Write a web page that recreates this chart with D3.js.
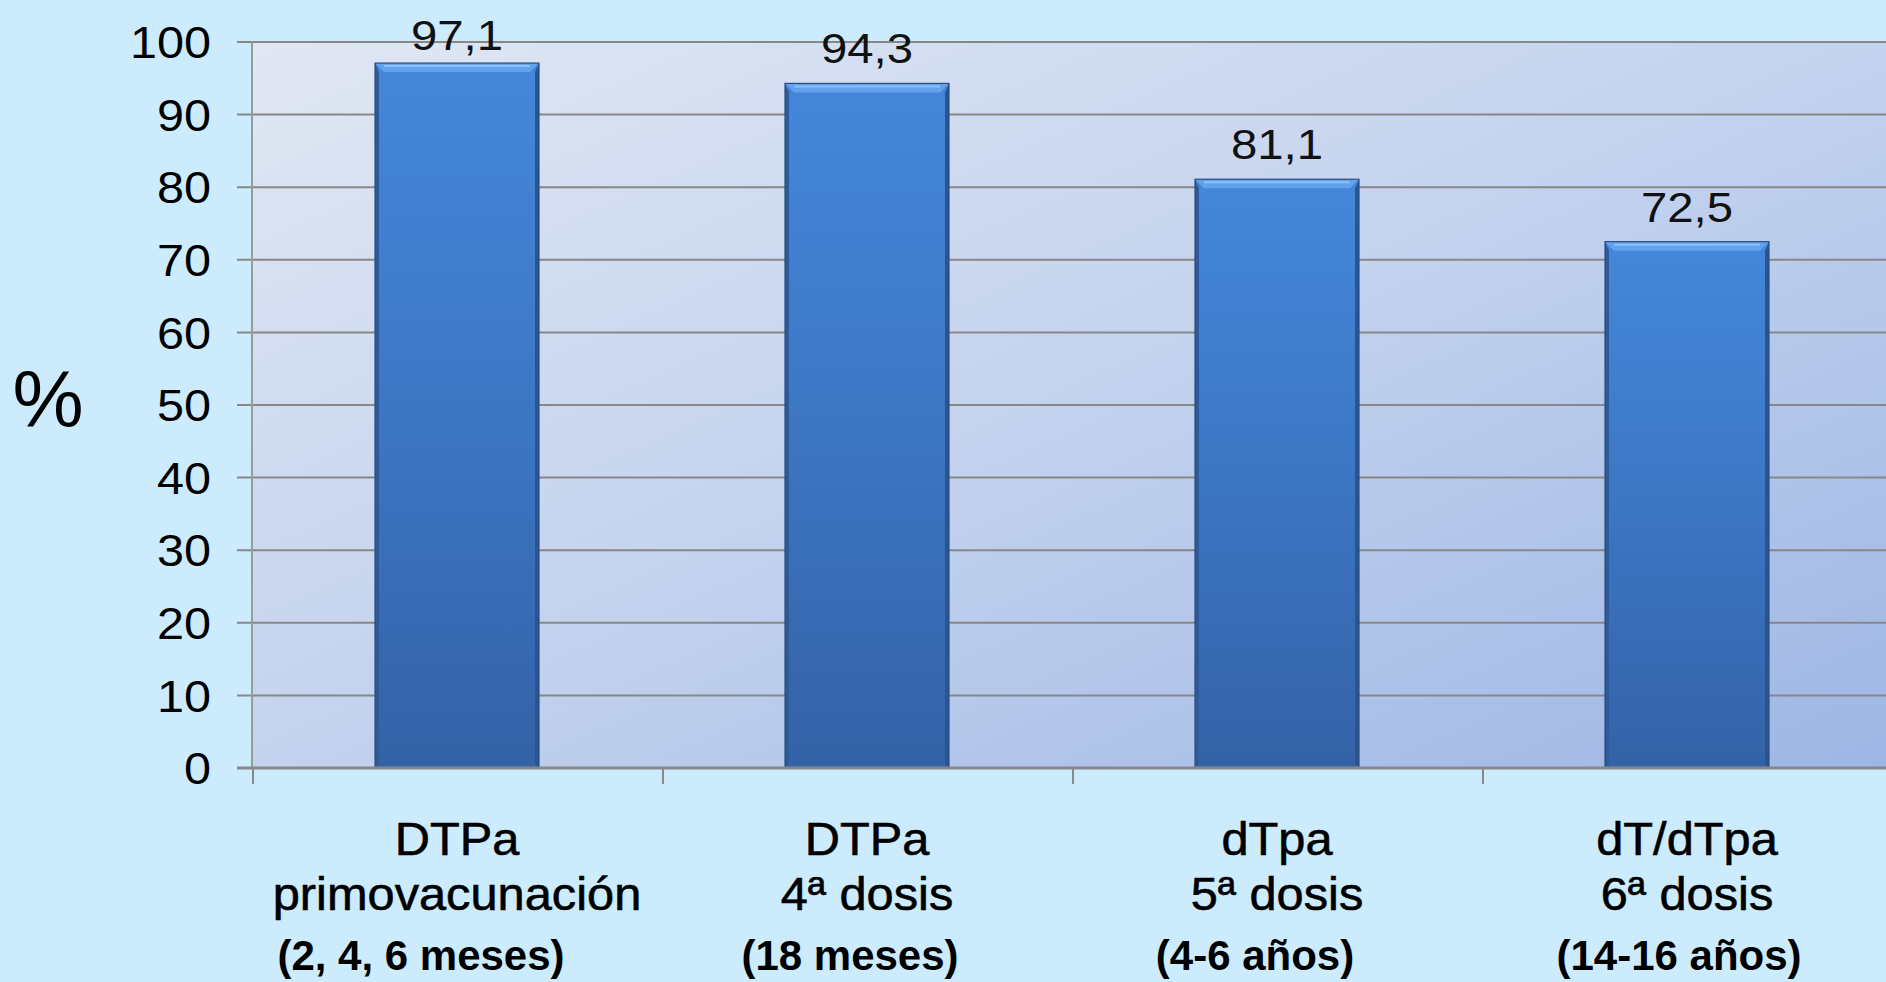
<!DOCTYPE html>
<html><head><meta charset="utf-8">
<script src="https://cdn.jsdelivr.net/npm/d3@7"></script>
<style>html,body{margin:0;padding:0;background:#CCECFE;overflow:hidden}svg{display:block}</style>
</head><body>
<script>
const catLine1 = ["DTPa", "DTPa", "dTpa", "dT/dTpa"];
const catLine2 = ["primovacunación", "4ª dosis", "5ª dosis", "6ª dosis"];
const catLine3 = ["(2, 4, 6 meses)", "(18 meses)", "(4-6 años)", "(14-16 años)"];
const values = [97.1, 94.3, 81.1, 72.5];
const yTicks = [0, 10, 20, 30, 40, 50, 60, 70, 80, 90, 100];
const yAxisLabel = "%";

// layout: horizontal nudge of the third label line (as placed in the original slide)
const line3Shift = [-36, -17, -22, -8];

const W = 1886, H = 982;
const FONT = "Liberation Sans, Arial, sans-serif";
const svg = d3.select("body").append("svg").attr("width", W).attr("height", H);
const defs = svg.append("defs");

const x = d3.scaleBand().domain(d3.range(values.length)).range([252, 1892]).padding(0);
const y = d3.scaleLinear().domain([0, 100]).range([768, 42]);
const barFrac = 0.4;

function stretchedText(g, tx, ty, sx, txt) {
  return g.append("text").attr("transform", `translate(${tx},${ty}) scale(${sx},1)`).text(txt);
}

const pg = defs.append("linearGradient").attr("id", "plotbg").attr("x1", "0").attr("y1", "0").attr("x2", "1").attr("y2", "1");
pg.append("stop").attr("offset", "0").attr("stop-color", "#E1E7F3");
pg.append("stop").attr("offset", "0.5").attr("stop-color", "#C3D2EE");
pg.append("stop").attr("offset", "1").attr("stop-color", "#9DB6E4");

const bg = defs.append("linearGradient").attr("id", "bargrad").attr("x1", "0").attr("y1", "0").attr("x2", "0").attr("y2", "1");
bg.append("stop").attr("offset", "0").attr("stop-color", "#4487DA");
bg.append("stop").attr("offset", "0.45").attr("stop-color", "#3D78C6");
bg.append("stop").attr("offset", "1").attr("stop-color", "#3462A7");

const [x0, x1] = x.range();
svg.append("rect").attr("x", x0).attr("y", y(100)).attr("width", x1 - x0).attr("height", y(0) - y(100)).attr("fill", "url(#plotbg)");

svg.append("g").selectAll("line").data(yTicks.filter(d => d > 0)).join("line")
  .attr("x1", 237).attr("x2", W).attr("y1", d => y(d)).attr("y2", d => y(d))
  .attr("stroke", "#878787").attr("stroke-width", 2);

svg.append("line").attr("x1", x0).attr("x2", x0).attr("y1", y(100)).attr("y2", y(0)).attr("stroke", "#9a9a9a").attr("stroke-width", 2);

const bars = svg.append("g");
values.forEach((v, i) => {
  const bw = x.bandwidth() * barFrac;
  const bx = x(i) + (x.bandwidth() - bw) / 2;
  const by = y(v), bh = y(0) - y(v);
  const g = bars.append("g");
  g.append("rect").attr("x", bx).attr("y", by).attr("width", bw).attr("height", bh).attr("fill", "url(#bargrad)");
  const b = 9;
  g.append("polygon").attr("points", [[bx, by], [bx + bw, by], [bx + bw - b, by + b], [bx + b, by + b]].map(p => p.join(",")).join(" "))
    .attr("fill", "#62A2EC");
  g.append("line").attr("x1", bx + b).attr("x2", bx + bw - b).attr("y1", by + 3).attr("y2", by + 3).attr("stroke", "#8CC0F6").attr("stroke-width", 2);
  g.append("polygon").attr("points", [[bx, by], [bx + 4, by + b], [bx + 4, by + bh - 4], [bx, by + bh]].map(p => p.join(",")).join(" ")).attr("fill", "#2E5A98");
  g.append("polygon").attr("points", [[bx + bw, by], [bx + bw - 4, by + b], [bx + bw - 4, by + bh - 4], [bx + bw, by + bh]].map(p => p.join(",")).join(" ")).attr("fill", "#2B5590");
  g.append("rect").attr("x", bx).attr("y", by).attr("width", bw).attr("height", bh).attr("fill", "none").attr("stroke", "#2A4E82").attr("stroke-width", 1.2);
  stretchedText(g, bx + bw / 2, Math.max(by - 20, 50), 1.1, v.toFixed(1).replace(".", ","))
    .attr("text-anchor", "middle").attr("font-family", FONT).attr("font-size", 43).attr("fill", "#111");
});

svg.append("line").attr("x1", 237).attr("x2", W).attr("y1", y(0)).attr("y2", y(0)).attr("stroke", "#878787").attr("stroke-width", 3);
svg.append("g").selectAll("line").data(d3.range(values.length)).join("line")
  .attr("x1", d => x(d) + 1).attr("x2", d => x(d) + 1).attr("y1", y(0)).attr("y2", y(0) + 16)
  .attr("stroke", "#8a8a8a").attr("stroke-width", 2);

const yl = svg.append("g").attr("font-family", FONT).attr("font-size", 45).attr("fill", "#000").attr("text-anchor", "end");
yTicks.forEach(t => {
  stretchedText(yl, 211, y(t), 1.08, t).attr("dy", "0.36em");
});

svg.append("text").attr("x", 48).attr("y", 398).attr("dy", "0.36em").attr("text-anchor", "middle")
  .attr("font-family", FONT).attr("font-size", 80).attr("fill", "#000").text(yAxisLabel);

const cl = svg.append("g").attr("font-family", FONT).attr("text-anchor", "middle").attr("fill", "#000");
d3.range(values.length).forEach(i => {
  const cx = x(i) + x.bandwidth() / 2;
  stretchedText(cl, cx, 855, 1.06, catLine1[i]).attr("font-size", 46).attr("stroke", "#000").attr("stroke-width", 0.6);
  stretchedText(cl, cx, 910, 1.06, catLine2[i]).attr("font-size", 46).attr("stroke", "#000").attr("stroke-width", 0.6);
  cl.append("text").attr("x", cx + line3Shift[i]).attr("y", 970).attr("font-size", 42).attr("font-weight", "bold").text(catLine3[i]);
});
</script>
</body></html>
